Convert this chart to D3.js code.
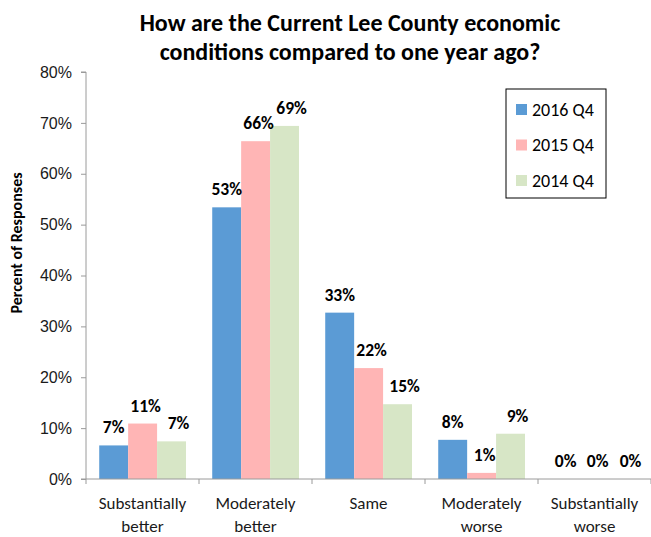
<!DOCTYPE html>
<html>
<head>
<meta charset="utf-8">
<script src="https://cdn.jsdelivr.net/npm/d3@7"></script>
<style>
  html, body { margin: 0; padding: 0; background: #fff; }
  svg { display: block; font-family: Calibri, Carlito, Lato, "Open Sans", sans-serif; }
</style>
</head>
<body>
<svg id="chart" width="651" height="537"></svg>
<script>
// Survey answers and responses per quarter (percent)
const categories = [["Substantially", "better"], ["Moderately", "better"], ["Same"], ["Moderately", "worse"], ["Substantially", "worse"]];
const seriesNames = ["2016 Q4", "2015 Q4", "2014 Q4"];
const values2016 = [6.6, 53.4, 32.7, 7.7, 0];
const values2015 = [10.9, 66.4, 21.8, 1.2, 0];
const values2014 = [7.4, 69.4, 14.7, 8.9, 0];
const yTicks = [0, 10, 20, 30, 40, 50, 60, 70, 80];
const colors = ["#5b9bd5", "#ffb5b5", "#d7e6c6"];

const seriesValues = [values2016, values2015, values2014];
const svg = d3.select("#chart");
const W = 651, H = 537;
const margin = { top: 72, right: 0, bottom: 58, left: 86 };
const innerW = W - margin.left - margin.right;
const innerH = H - margin.top - margin.bottom;

const g = svg.append("g").attr("transform", `translate(${margin.left},${margin.top})`);

const x0 = d3.scaleBand().domain(d3.range(categories.length)).range([0, innerW]).padding(0);
const x1 = d3.scaleBand().domain(d3.range(seriesNames.length))
  .range([x0.bandwidth() * 0.117, x0.bandwidth() * 0.885]).padding(0);
const y = d3.scaleLinear().domain([0, 80]).range([innerH, 0]);

// Bars
const groups = g.selectAll("g.cat").data(categories.map((c, i) => i)).join("g")
  .attr("class", "cat")
  .attr("transform", i => `translate(${x0(i)},0)`);

groups.selectAll("rect").data(i => seriesValues.map((s, k) => ({ k, v: s[i] }))).join("rect")
  .attr("x", d => x1(d.k))
  .attr("width", x1.bandwidth())
  .attr("y", d => y(d.v))
  .attr("height", d => innerH - y(d.v))
  .attr("fill", d => colors[d.k]);

// Value labels
groups.selectAll("text.val").data(i => seriesValues.map((s, k) => ({ k, v: s[i] }))).join("text")
  .attr("class", "val")
  .attr("x", d => x1(d.k) + x1.bandwidth() / 2 + [0, 3, 7][d.k])
  .attr("y", d => y(d.v) - 12)
  .attr("text-anchor", "middle")
  .attr("font-size", 17.5)
  .attr("font-weight", "bold")
  .attr("fill", "#000")
  .text(d => Math.round(d.v) + "%");

// Y axis
const yAxis = g.append("g").call(d3.axisLeft(y).tickValues(yTicks).tickSize(5).tickPadding(9).tickFormat(d => d + "%"));
yAxis.select(".domain").attr("stroke", "#9a9a9a").attr("d", `M-5,0H0V${innerH}H-5`);
yAxis.selectAll(".tick line").attr("stroke", "#9a9a9a");
yAxis.selectAll(".tick text").attr("font-size", 16).attr("fill", "#1a1a1a").attr("font-family", null);

// X axis with ticks at category boundaries
const xAxis = g.append("g").attr("transform", `translate(0,${innerH})`);
xAxis.append("line").attr("x1", 0).attr("x2", innerW).attr("y1", 0).attr("y2", 0).attr("stroke", "#9a9a9a");
xAxis.selectAll("line.b").data(d3.range(categories.length + 1)).join("line")
  .attr("class", "b")
  .attr("x1", i => i * x0.step()).attr("x2", i => i * x0.step())
  .attr("y1", 0).attr("y2", 5).attr("stroke", "#9a9a9a");
const xl = xAxis.selectAll("text").data(categories).join("text")
  .attr("transform", (c, i) => `translate(${x0(i) + x0.bandwidth() / 2},0)`)
  .attr("text-anchor", "middle")
  .attr("font-size", 17)
  .attr("fill", "#1a1a1a");
xl.selectAll("tspan").data(c => c).join("tspan")
  .attr("x", 0)
  .attr("y", (t, j) => 30 + j * 23)
  .text(t => t);

// Y axis title
svg.append("text")
  .attr("transform", "translate(22,243) rotate(-90)")
  .attr("text-anchor", "middle")
  .attr("font-size", 16)
  .attr("font-weight", "bold")
  .attr("fill", "#000")
  .text("Percent of Responses");

// Chart title
const title = svg.append("text").attr("text-anchor", "middle").attr("font-size", 24).attr("font-weight", "bold").attr("fill", "#000");
title.append("tspan").attr("x", 350).attr("y", 31).text("How are the Current Lee County economic");
title.append("tspan").attr("x", 350).attr("y", 60).text("conditions compared to one year ago?");

// Legend
const legend = svg.append("g").attr("transform", "translate(506,89)");
legend.append("rect").attr("width", 100).attr("height", 109).attr("fill", "#fff").attr("stroke", "#000").attr("stroke-width", 1);
const items = legend.selectAll("g.item").data(seriesNames).join("g")
  .attr("class", "item")
  .attr("transform", (s, i) => `translate(10,${20 + i * 35.5})`);
items.append("rect").attr("x", 0).attr("y", -5).attr("width", 11).attr("height", 11).attr("fill", (s, i) => colors[i]);
items.append("text").attr("x", 16).attr("y", 6.5).attr("font-size", 18).attr("fill", "#000").text(s => s);
</script>
</body>
</html>
